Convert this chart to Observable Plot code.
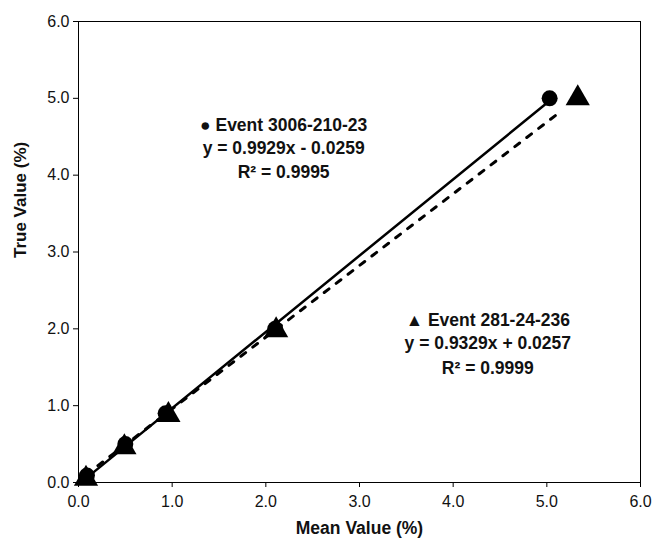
<!DOCTYPE html>
<html>
<head>
<meta charset="utf-8">
<script src="https://cdn.jsdelivr.net/npm/d3@7"></script>
<script src="https://cdn.jsdelivr.net/npm/@observablehq/plot@0.6"></script>
<style>
  html, body { margin: 0; padding: 0; background: #fff; }
  #chart { width: 655px; height: 542px; }
</style>
</head>
<body>
<div id="chart"></div>
<script>
// Event 3006-210-23 (circles)
const circleMean = [0.09, 0.50, 0.93, 2.10, 5.03];
const circleTrue = [0.09, 0.50, 0.90, 2.00, 5.00];
// Event 281-24-236 (triangles)
const triMean = [0.08, 0.49, 0.96, 2.11, 5.33];
const triTrue = [0.05, 0.46, 0.88, 1.98, 5.00];
// Fitted trendlines (equations shown on chart)
const circleFit = {slope: 0.9929, intercept: -0.0259, xRange: [0.09, 5.03]};
const triFit = {slope: 0.9329, intercept: 0.0257, xRange: [0.08, 5.14]};
const tickValues = [0, 1, 2, 3, 4, 5, 6];
const label1 = ["\u25CF Event 3006-210-23", "y = 0.9929x - 0.0259", "R\u00B2 = 0.9995"];
const label2 = ["\u25B2 Event 281-24-236", "y = 0.9329x + 0.0257", "R\u00B2 = 0.9999"];
const label1Pos = {x: 2.19, y: [4.65, 4.35, 4.04]};
const label2Pos = {x: 4.37, y: [2.11, 1.81, 1.48]};

const circles = circleMean.map((m, i) => ({x: m, y: circleTrue[i]}));
const tris = triMean.map((m, i) => ({x: m, y: triTrue[i]}));
const fitPts = f => f.xRange.map(x => ({x, y: f.slope * x + f.intercept}));
const lab = (arr, pos) => arr.map((t, i) => ({t, x: pos.x, y: pos.y[i]}));

const font = "Liberation Sans, Arial, Helvetica, sans-serif";

const plot = Plot.plot({
  width: 655,
  height: 542,
  marginLeft: 78,
  marginRight: 15,
  marginTop: 21,
  marginBottom: 60,
  style: {fontFamily: font, fontSize: "16px", color: "#000", background: "#fff"},
  x: {domain: [0, 6]},
  y: {domain: [0, 6]},
  marks: [
    Plot.frame({stroke: "#000", strokeWidth: 1}),
    Plot.axisX({ticks: tickValues, tickFormat: d3.format(".1f"), tickSize: 5, tickPadding: 8, fontSize: 16, fill: "#111", label: null}),
    Plot.axisY({ticks: tickValues, tickFormat: d3.format(".1f"), tickSize: 5, tickPadding: 4, fontSize: 16, fill: "#111", label: null}),
    Plot.text(["Mean Value (%)"], {frameAnchor: "bottom", dy: 51, fontWeight: "bold", fontSize: 17.5, fill: "#111"}),
    Plot.text(["True Value (%)"], {frameAnchor: "left", dx: -58, dy: 6, rotate: -90, fontWeight: "bold", fontSize: 17, fill: "#111"}),
    Plot.line(fitPts(triFit), {x: "x", y: "y", stroke: "#000", strokeWidth: 3, strokeDasharray: "6,9"}),
    Plot.line(fitPts(circleFit), {x: "x", y: "y", stroke: "#000", strokeWidth: 2.5}),
    Plot.dot(tris, {x: "x", y: "y", symbol: "triangle", r: 9, fill: "#000", stroke: "none"}),
    Plot.dot(circles, {x: "x", y: "y", symbol: "circle", r: 8, fill: "#000", stroke: "none"}),
    Plot.text(lab(label1, label1Pos), {x: "x", y: "y", text: "t", fontWeight: "bold", fontSize: 17.5, fill: "#111"}),
    Plot.text(lab(label2, label2Pos), {x: "x", y: "y", text: "t", fontWeight: "bold", fontSize: 17.5, fill: "#111"})
  ]
});
document.getElementById("chart").appendChild(plot);
</script>
</body>
</html>
